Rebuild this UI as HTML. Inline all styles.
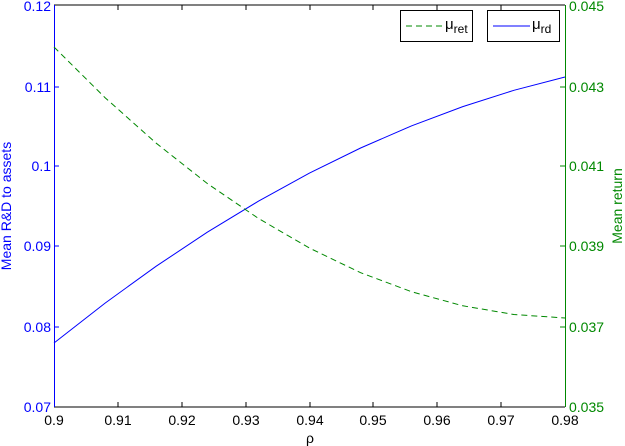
<!DOCTYPE html>
<html><head><style>body{margin:0;background:#fff}svg{display:block;font-family:"Liberation Sans",sans-serif}</style></head><body>
<svg width="625" height="446" viewBox="0 0 625 446">
<line x1="54" y1="5" x2="565" y2="5" stroke="#000"/>
<line x1="54" y1="407" x2="565" y2="407" stroke="#000"/>
<line x1="54.5" y1="5" x2="54.5" y2="407" stroke="#00f"/>
<line x1="565.5" y1="5" x2="565.5" y2="407" stroke="#080"/>
<g stroke="#000">
<line x1="118" y1="407" x2="118" y2="402"/><line x1="182" y1="407" x2="182" y2="402"/><line x1="246" y1="407" x2="246" y2="402"/><line x1="310" y1="407" x2="310" y2="402"/><line x1="373" y1="407" x2="373" y2="402"/><line x1="437" y1="407" x2="437" y2="402"/><line x1="501" y1="407" x2="501" y2="402"/>
<line x1="118" y1="5" x2="118" y2="10"/><line x1="182" y1="5" x2="182" y2="10"/><line x1="246" y1="5" x2="246" y2="10"/><line x1="310" y1="5" x2="310" y2="10"/><line x1="373" y1="5" x2="373" y2="10"/><line x1="437" y1="5" x2="437" y2="10"/><line x1="501" y1="5" x2="501" y2="10"/>
</g>
<g stroke="#00f"><line x1="54" y1="87" x2="59" y2="87"/><line x1="54" y1="166" x2="59" y2="166"/><line x1="54" y1="246" x2="59" y2="246"/><line x1="54" y1="327" x2="59" y2="327"/></g>
<g stroke="#080"><line x1="565" y1="87" x2="560" y2="87"/><line x1="565" y1="166" x2="560" y2="166"/><line x1="565" y1="246" x2="560" y2="246"/><line x1="565" y1="327" x2="560" y2="327"/></g>
<g font-size="14" text-anchor="middle" fill="#000">
<text x="54" y="425">0.9</text><text x="118" y="425">0.91</text><text x="182" y="425">0.92</text><text x="246" y="425">0.93</text><text x="310" y="425">0.94</text><text x="373" y="425">0.95</text><text x="437" y="425">0.96</text><text x="501" y="425">0.97</text><text x="565" y="425">0.98</text>
<text x="310" y="443">ρ</text>
</g>
<g font-size="14" text-anchor="end" fill="#00f">
<text x="51" y="412">0.07</text><text x="51" y="332">0.08</text><text x="51" y="251">0.09</text><text x="51" y="171">0.1</text><text x="51" y="92">0.11</text><text x="51" y="11">0.12</text>
</g>
<g font-size="14" fill="#080">
<text x="569" y="412">0.035</text><text x="569" y="332">0.037</text><text x="569" y="251">0.039</text><text x="569" y="171">0.041</text><text x="569" y="92">0.043</text><text x="569" y="11">0.045</text>
</g>
<text transform="translate(11,206) rotate(-90)" font-size="14" fill="#00f" text-anchor="middle">Mean R&amp;D to assets</text>
<text transform="translate(622,206) rotate(-90)" font-size="14" fill="#080" text-anchor="middle">Mean return</text>
<polyline points="54,343 105.1,303.1 156.2,266.2 207.3,232.2 258.4,201.2 309.5,173.1 360.6,148 411.7,125.8 462.8,106.6 513.9,90.3 565,77" fill="none" stroke="#00f"/>
<polyline points="54,47 105.1,97.7 156.2,143.2 207.3,183.5 258.4,218.4 309.5,248.1 360.6,272.7 411.7,291.8 462.8,305.8 513.9,314.5 565,318" fill="none" stroke="#080" stroke-dasharray="6,4"/>
<rect x="400.5" y="10.5" width="72" height="31" fill="#fff" stroke="#000"/>
<line x1="406" y1="26" x2="444" y2="26" stroke="#080" stroke-dasharray="6,4"/>
<text x="445" y="29" font-size="15">μ<tspan font-size="12" dy="4">ret</tspan></text>
<rect x="487.5" y="10.5" width="72" height="31" fill="#fff" stroke="#000"/>
<line x1="493" y1="26" x2="530" y2="26" stroke="#00f"/>
<text x="532" y="29" font-size="15">μ<tspan font-size="12" dy="4">rd</tspan></text>
</svg>
</body></html>
